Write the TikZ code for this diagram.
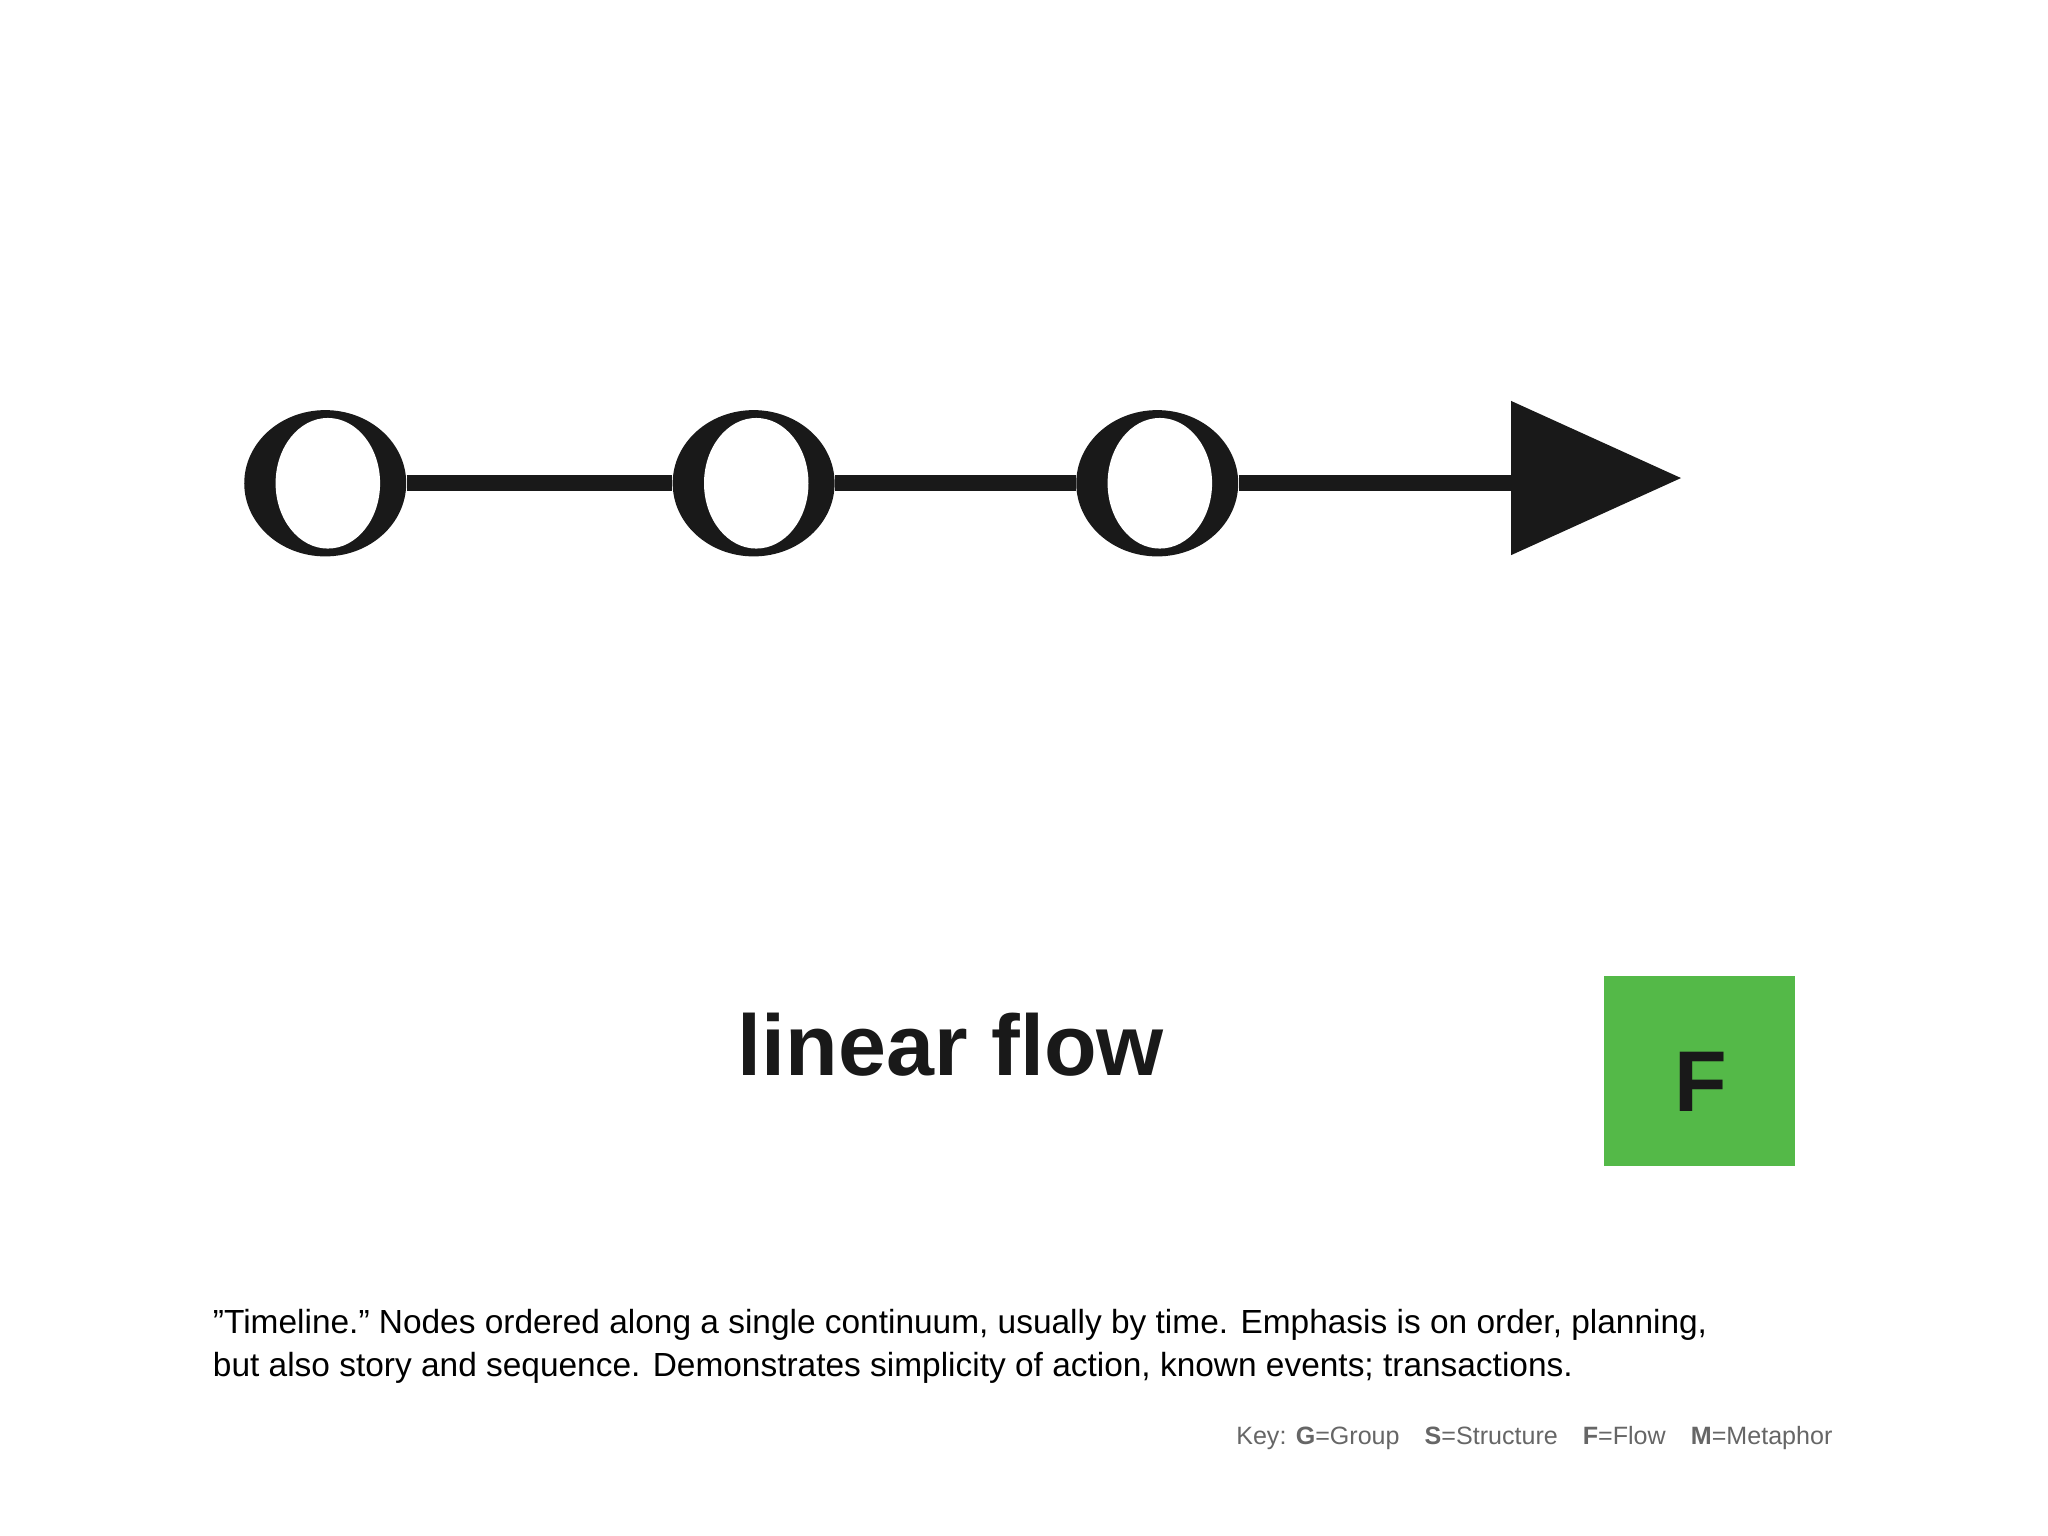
\documentclass[tikz,border=0pt]{standalone}
\usepackage{fontspec}
\setmainfont{Liberation Sans}
\usetikzlibrary{shapes.geometric}
\begin{document}
\begin{tikzpicture}[x=0.5pt,y=-0.5pt,
  outer/.style={ellipse,fill=black!90,minimum width=62pt,minimum height=56pt,inner sep=0pt},
  inner/.style={ellipse,fill=white,minimum width=40pt,minimum height=50pt,inner sep=0pt},
  link/.style={line width=6pt,draw=black!90}]
\useasboundingbox (0,0) rectangle (1568,1176);
\node[outer] (c1) at (249,370) {};
\node[outer] (c2) at (577,370) {};
\node[outer] (c3) at (886,370) {};
\coordinate (t) at (1160,370);
\draw[link] (c1) -- (c2);
\draw[link] (c2) -- (c3);
\draw[link] (c3) -- (t);
\fill[black!90] (1157,307) -- (1287,366) -- (1157,425) -- cycle;
\node[inner] at (251,370) {};
\node[inner] at (579,370) {};
\node[inner] at (888,370) {};
\node[font=\fontsize{33}{36}\selectfont\bfseries,text=black!90] (lf) at (728,800) {linear flow};
\node[fill={rgb,255:red,84;green,185;blue,72},minimum size=73pt,inner sep=0pt] (sq) at (1301,820) {};
\node[font=\fontsize{33}{36}\selectfont\bfseries,text=black!90] at (1302,828) {F};
\node[anchor=west,align=left,font=\fontsize{12.8}{16.5}\selectfont] (cap) at (156,1031)
 {"Timeline." Nodes ordered along a single continuum, usually by time. Emphasis is on order, planning,\\
  but also story and sequence. Demonstrates simplicity of action, known events; transactions.};
\node[anchor=east,font=\fontsize{9.6}{11}\selectfont,text=black!60] (key) at (1410,1101)
 {Key: \textbf{G}=Group\quad \textbf{S}=Structure\quad \textbf{F}=Flow\quad \textbf{M}=Metaphor};
\end{tikzpicture}
\end{document}
